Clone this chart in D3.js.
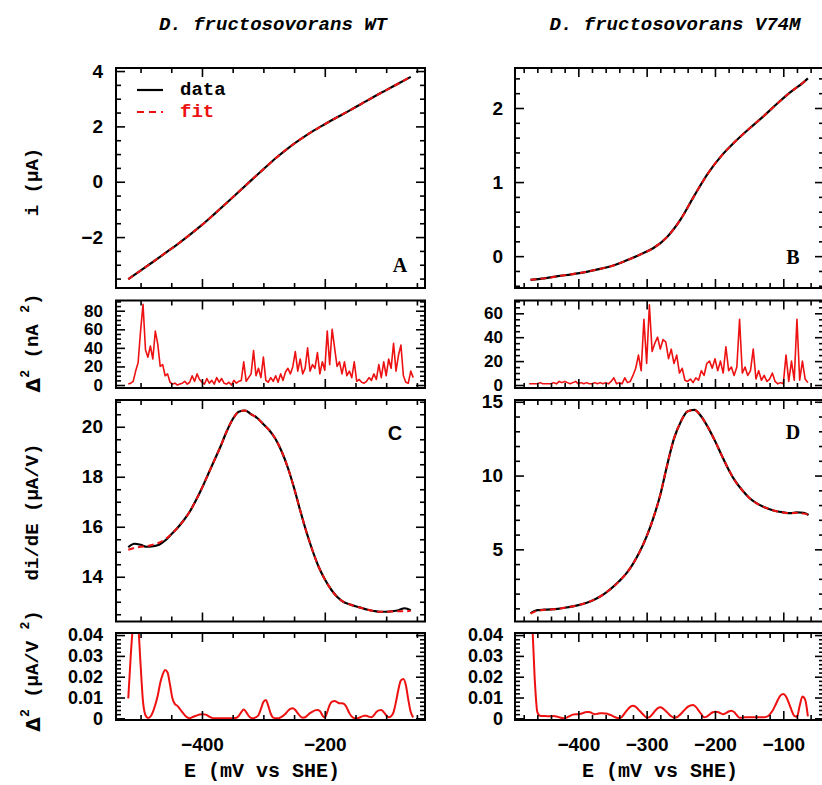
<!DOCTYPE html>
<html><head><meta charset="utf-8">
<script src="https://cdn.jsdelivr.net/npm/d3@7"></script>
<style>
html,body{margin:0;padding:0;background:#fff;}
svg{display:block;}
</style></head><body>
<svg id="chart" width="822" height="785"></svg>
<script>
// ---------------- text ----------------
const titles = ["D. fructosovorans WT", "D. fructosovorans V74M"];
const panelLetters = ["A", "B", "C", "D"];
const legendLabels = ["data", "fit"];
const xAxisLabel = "E (mV vs SHE)";

// ---------------- ticks ----------------
const wtXTicks = [-400, -200];
const mtXTicks = [-400, -300, -200, -100];
const aYTicks = [-2, 0, 2, 4];
const bYTicks = [0, 1, 2];
const res1WtTicks = [0, 20, 40, 60, 80];
const res1MtTicks = [0, 20, 40, 60];
const cYTicks = [14, 16, 18, 20];
const dYTicks = [5, 10, 15];
const res2Ticks = [0, 0.01, 0.02, 0.03, 0.04];

// ---------------- WT current (A) ----------------
const wtIE = [-520,-500,-480,-460,-440,-420,-400,-380,-360,-340,-320,-300,-280,-260,-240,-220,-200,-180,-160,-140,-120,-100,-80,-60];
const wtIData = [-3.52,-3.21,-2.90,-2.58,-2.26,-1.92,-1.56,-1.17,-0.77,-0.36,0.05,0.45,0.85,1.21,1.53,1.82,2.08,2.33,2.57,2.82,3.07,3.31,3.55,3.79];
const wtIFit  = [-3.52,-3.21,-2.90,-2.58,-2.26,-1.92,-1.56,-1.17,-0.77,-0.36,0.05,0.45,0.85,1.21,1.53,1.82,2.08,2.33,2.57,2.82,3.07,3.31,3.55,3.79];

// ---------------- WT derivative (C) ----------------
const wtDE = [-520,-510,-500,-490,-480,-470,-460,-450,-440,-430,-420,-410,-400,-390,-380,-370,-360,-350,-340,-330,-320,-310,-300,-290,-280,-270,-260,-250,-240,-230,-220,-210,-200,-190,-180,-170,-160,-150,-140,-130,-120,-110,-100,-90,-80,-70,-60];
const wtDData = [15.18,15.32,15.28,15.20,15.22,15.28,15.45,15.70,15.95,16.25,16.60,17.05,17.55,18.10,18.65,19.20,19.80,20.30,20.60,20.65,20.50,20.35,20.10,19.85,19.50,19.00,18.35,17.55,16.65,15.80,15.05,14.40,13.90,13.50,13.20,13.00,12.90,12.82,12.75,12.68,12.63,12.60,12.60,12.62,12.66,12.74,12.66];
const wtDFit  = [15.08,15.15,15.20,15.22,15.28,15.36,15.50,15.70,15.95,16.25,16.60,17.05,17.55,18.10,18.65,19.20,19.80,20.30,20.60,20.65,20.50,20.35,20.10,19.85,19.50,19.00,18.35,17.55,16.65,15.80,15.05,14.40,13.90,13.50,13.20,13.00,12.90,12.82,12.75,12.68,12.63,12.60,12.60,12.61,12.62,12.62,12.64];

// ---------------- WT residuals ----------------
const wtRE = [-520,-516,-512,-508,-504,-500,-496,-492,-488,-484,-480,-476,-472,-468,-464,-460,-456,-452,-448,-444,-440,-436,-432,-428,-424,-420,-416,-412,-408,-404,-400,-396,-392,-388,-384,-380,-376,-372,-368,-364,-360,-356,-352,-348,-344,-340,-336,-332,-328,-324,-320,-316,-312,-308,-304,-300,-296,-292,-288,-284,-280,-276,-272,-268,-264,-260,-256,-252,-248,-244,-240,-236,-232,-228,-224,-220,-216,-212,-208,-204,-200,-196,-192,-188,-184,-180,-176,-172,-168,-164,-160,-156,-152,-148,-144,-140,-136,-132,-128,-124,-120,-116,-112,-108,-104,-100,-96,-92,-88,-84,-80,-76,-72,-68,-64,-60,-56];
const wtRes1 = [1,2,4,15,24,58,87,38,30,42,28,58,44,20,22,10,12,3,1,2,0,1,2,4,1,3,10,4,12,6,3,1,7,2,5,1,8,3,7,2,1,3,0,5,2,4,5,25,4,8,12,37,10,18,8,30,5,3,8,4,10,3,12,5,14,18,12,20,36,15,28,12,18,40,15,22,18,35,12,25,16,58,22,60,40,20,25,12,25,10,15,8,25,4,6,3,2,4,8,5,12,6,22,8,25,10,28,18,45,15,32,43,10,3,2,15,8];
const wtRes2 = [0.0096,0.030,0.046,0.055,0.046,0.026,0.008,0.0015,0.0002,0.0008,0.003,0.0065,0.011,0.017,0.021,0.0232,0.022,0.016,0.0095,0.0068,0.006,0.0045,0.003,0.0015,0.0005,0.0001,0.0005,0.001,0.0014,0.0018,0.002,0.0019,0.0015,0.0008,0.0002,0.0,0.0,0.0,0.0,0.0,0.0,0.0,0.0,0.0001,0.0003,0.0012,0.003,0.0043,0.003,0.0012,0.0002,0.0001,0.0006,0.0015,0.0045,0.0078,0.0088,0.006,0.0022,0.0003,0.0,0.0,0.0005,0.0012,0.0022,0.0036,0.0045,0.0048,0.004,0.0025,0.001,0.0003,0.0005,0.0015,0.0025,0.0032,0.0038,0.004,0.0035,0.0015,0.0004,0.003,0.0065,0.008,0.0083,0.0078,0.0072,0.0073,0.0068,0.005,0.0025,0.0008,0.0001,0.0,0.0003,0.0008,0.0013,0.0012,0.0008,0.0005,0.0015,0.003,0.0038,0.004,0.003,0.0015,0.0005,0.001,0.003,0.008,0.014,0.0182,0.0189,0.016,0.009,0.003,0.0005];

// ---------------- V74M current (B) ----------------
const mtIE = [-470,-450,-430,-410,-390,-370,-350,-330,-310,-290,-270,-250,-230,-210,-190,-170,-150,-130,-110,-90,-70,-64];
const mtIData = [-0.32,-0.30,-0.27,-0.245,-0.215,-0.175,-0.13,-0.06,0.02,0.11,0.26,0.50,0.82,1.12,1.36,1.55,1.72,1.88,2.05,2.21,2.35,2.40];
const mtIFit  = [-0.32,-0.30,-0.27,-0.245,-0.215,-0.175,-0.13,-0.06,0.02,0.11,0.26,0.50,0.82,1.12,1.36,1.55,1.72,1.88,2.05,2.21,2.35,2.40];

// ---------------- V74M derivative (D) ----------------
const mtDE = [-470,-460,-450,-440,-430,-420,-410,-400,-390,-380,-370,-360,-350,-340,-330,-320,-310,-300,-290,-280,-270,-260,-250,-240,-230,-220,-210,-200,-190,-180,-170,-160,-150,-140,-130,-120,-110,-100,-90,-80,-70,-63];
const mtDData = [0.68,0.88,0.91,0.93,0.97,1.04,1.12,1.22,1.35,1.52,1.75,2.05,2.42,2.85,3.35,4.02,4.85,5.88,7.15,8.70,10.70,12.50,13.65,14.35,14.45,14.00,13.25,12.35,11.35,10.40,9.60,9.00,8.50,8.15,7.90,7.72,7.58,7.50,7.45,7.50,7.48,7.33];
const mtDFit  = [0.64,0.84,0.90,0.93,0.97,1.04,1.12,1.22,1.35,1.52,1.75,2.05,2.42,2.85,3.35,4.02,4.85,5.88,7.15,8.70,10.70,12.50,13.65,14.35,14.45,14.00,13.25,12.35,11.35,10.40,9.60,9.00,8.50,8.15,7.90,7.72,7.58,7.50,7.45,7.48,7.42,7.35];

// ---------------- V74M residuals ----------------
const mtRE = [-472,-468,-464,-460,-456,-452,-448,-444,-440,-436,-432,-428,-424,-420,-416,-412,-408,-404,-400,-396,-392,-388,-384,-380,-376,-372,-368,-364,-360,-356,-352,-348,-344,-340,-336,-332,-328,-324,-320,-316,-312,-308,-304,-300,-296,-292,-288,-284,-280,-276,-272,-268,-264,-260,-256,-252,-248,-244,-240,-236,-232,-228,-224,-220,-216,-212,-208,-204,-200,-196,-192,-188,-184,-180,-176,-172,-168,-164,-160,-156,-152,-148,-144,-140,-136,-132,-128,-124,-120,-116,-112,-108,-104,-100,-96,-92,-88,-84,-80,-76,-72,-68,-64];
const mtRes1 = [1,1,1,1,2,1,1,1,1,2,1,3,2,3,2,1,2,3,1,2,1,2,1,1,2,1,2,1,2,1,3,6,1,2,1,6,2,3,8,14,25,12,55,18,67,28,35,40,30,38,36,22,30,18,25,10,14,4,3,5,2,6,4,12,8,18,20,14,22,12,20,10,32,12,15,8,15,55,10,15,8,12,30,5,12,4,8,3,5,10,3,1,2,1,25,3,20,4,55,4,20,5,2];
const mtRes2 = [0.09,0.05,0.02,0.003,0.0012,0.0011,0.0011,0.001,0.001,0.0011,0.0009,0.0005,0.0002,0.0001,0.0005,0.0012,0.0018,0.002,0.002,0.0022,0.0027,0.003,0.003,0.0025,0.002,0.0022,0.0025,0.0025,0.0023,0.002,0.0015,0.0008,0.0003,0.0001,0.0008,0.0025,0.0042,0.0055,0.006,0.0055,0.0042,0.0028,0.0015,0.0004,0.0005,0.0018,0.0035,0.0048,0.0053,0.0047,0.0035,0.0022,0.001,0.0003,0.0005,0.0015,0.0028,0.0042,0.0055,0.0062,0.0064,0.0055,0.0038,0.002,0.0005,0.0008,0.0018,0.0028,0.0032,0.003,0.0025,0.002,0.0025,0.0033,0.0037,0.003,0.0015,0.0003,0.0003,0.0005,0.0005,0.0005,0.0005,0.0005,0.0005,0.0005,0.0005,0.0008,0.0018,0.0035,0.006,0.0088,0.011,0.0117,0.0105,0.0075,0.004,0.0012,0.0008,0.006,0.0105,0.009,0.001];

// ---------------- layout ----------------
const svg = d3.select("#chart");
const cols = [{x0: 116, x1: 425}, {x0: 515, x1: 824}];
const rows = [{y0: 68, y1: 288}, {y0: 300.5, y1: 388}, {y0: 400, y1: 621.5}, {y0: 633, y1: 720}];
const xScales = [
  d3.scaleLinear().domain([-540, -36.8]).range([cols[0].x0, cols[0].x1]),
  d3.scaleLinear().domain([-492.7, -40.4]).range([cols[1].x0, cols[1].x1])
];
const xMajor = [wtXTicks, mtXTicks];
const xMinorStep = [50, 20];

const TEXT_FONT = "'Liberation Mono', 'DejaVu Sans Mono', monospace";
const NUM_FONT = "'Liberation Sans', Arial, sans-serif";
const RED = "#ee1111";

const fmtInt = d3.format("d");
const fmtRes2 = d => d === 0 ? "0" : d3.format(".2f")(d);

const panels = [
  {id: "A", col: 0, row: 0, yDomain: [-3.84, 4.11], yTicks: aYTicks, yMinor: 0.5, fmt: fmtInt, fs: 19,
   series: [{E: wtIE, v: wtIData, kind: "data"}, {E: wtIE, v: wtIFit, kind: "fit"}]},
  {id: "B", col: 1, row: 0, yDomain: [-0.43, 2.54], yTicks: bYTicks, yMinor: 0.2, fmt: fmtInt, fs: 19,
   series: [{E: mtIE, v: mtIData, kind: "data"}, {E: mtIE, v: mtIFit, kind: "fit"}]},
  {id: "R1a", col: 0, row: 1, yDomain: [-3.2, 91], yTicks: res1WtTicks, yMinor: 5, fmt: fmtInt, fs: 17,
   series: [{E: wtRE, v: wtRes1, kind: "res"}]},
  {id: "R1b", col: 1, row: 1, yDomain: [-2.5, 70.7], yTicks: res1MtTicks, yMinor: 5, fmt: fmtInt, fs: 17,
   series: [{E: mtRE, v: mtRes1, kind: "res"}]},
  {id: "C", col: 0, row: 2, yDomain: [12.21, 21.07], yTicks: cYTicks, yMinor: 0.5, fmt: fmtInt, fs: 19,
   series: [{E: wtDE, v: wtDData, kind: "data"}, {E: wtDE, v: wtDFit, kind: "fit"}]},
  {id: "D", col: 1, row: 2, yDomain: [0.11, 15.12], yTicks: dYTicks, yMinor: 1, fmt: fmtInt, fs: 19,
   series: [{E: mtDE, v: mtDData, kind: "data"}, {E: mtDE, v: mtDFit, kind: "fit"}]},
  {id: "R2a", col: 0, row: 3, yDomain: [-0.0008, 0.041], yTicks: res2Ticks, yMinor: 0.002, fmt: fmtRes2, fs: 18,
   series: [{E: wtRE, v: wtRes2, kind: "res2"}]},
  {id: "R2b", col: 1, row: 3, yDomain: [-0.0008, 0.041], yTicks: res2Ticks, yMinor: 0.002, fmt: fmtRes2, fs: 18,
   series: [{E: mtRE, v: mtRes2, kind: "res2"}]}
];

function minorValues(domain, step) {
  const lo = Math.min(domain[0], domain[1]), hi = Math.max(domain[0], domain[1]);
  const out = [];
  const start = Math.ceil(lo / step - 1e-9);
  for (let k = start; k * step <= hi + 1e-12; k++) out.push(+(k * step).toFixed(6));
  return out;
}

function styleAxis(g, withText, fs) {
  g.select(".domain").remove();
  g.selectAll(".tick line").attr("stroke", "#000").attr("stroke-width", 1.6);
  g.attr("font-family", NUM_FONT).attr("font-size", fs || 19).attr("font-weight", "bold");
  g.selectAll(".tick text").attr("fill", "#000");
  if (!withText) g.selectAll(".tick text").remove();
}

const defs = svg.append("defs");

panels.forEach(p => {
  const c = cols[p.col], r = rows[p.row];
  const x = xScales[p.col];
  const y = d3.scaleLinear().domain(p.yDomain).range([r.y1, r.y0]);
  const clipId = "clip" + p.id;
  defs.append("clipPath").attr("id", clipId).append("rect")
    .attr("x", c.x0).attr("y", r.y0).attr("width", c.x1 - c.x0).attr("height", r.y1 - r.y0);

  const gData = svg.append("g").attr("clip-path", `url(#${clipId})`);
  p.series.forEach(s => {
    const pts = s.E.map((e, i) => [e, s.v[i]]);
    const line = d3.line().x(d => x(d[0])).y(d => y(d[1]))
      .curve(s.kind === "res" ? d3.curveLinear : d3.curveMonotoneX);
    const path = gData.append("path").datum(pts).attr("d", line).attr("fill", "none")
      .attr("stroke-linejoin", "round");
    if (s.kind === "data") path.attr("stroke", "#000").attr("stroke-width", 2.2);
    else if (s.kind === "fit") path.attr("stroke", RED).attr("stroke-width", 2).attr("stroke-dasharray", "6,4");
    else if (s.kind === "res") path.attr("stroke", RED).attr("stroke-width", 1.6);
    else path.attr("stroke", RED).attr("stroke-width", 2);
  });

  const majorLen = 9, minorLen = 5;
  const xMin = minorValues(x.domain(), xMinorStep[p.col]).filter(v => !xMajor[p.col].includes(v));
  const yMin = minorValues(p.yDomain, p.yMinor).filter(v => !p.yTicks.some(t => Math.abs(t - v) < 1e-9));

  const isBottom = p.row === 3;
  // bottom
  svg.append("g").attr("transform", `translate(0,${r.y1})`)
    .call(d3.axisBottom(x).tickValues(xMajor[p.col]).tickSize(-majorLen).tickPadding(18).tickFormat(fmtInt))
    .call(g => styleAxis(g, isBottom, 19));
  svg.append("g").attr("transform", `translate(0,${r.y1})`)
    .call(d3.axisBottom(x).tickValues(xMin).tickSize(-minorLen).tickFormat(""))
    .call(g => styleAxis(g, false));
  // top
  svg.append("g").attr("transform", `translate(0,${r.y0})`)
    .call(d3.axisTop(x).tickValues(xMajor[p.col]).tickSize(-majorLen).tickFormat(""))
    .call(g => styleAxis(g, false));
  svg.append("g").attr("transform", `translate(0,${r.y0})`)
    .call(d3.axisTop(x).tickValues(xMin).tickSize(-minorLen).tickFormat(""))
    .call(g => styleAxis(g, false));
  // left
  svg.append("g").attr("transform", `translate(${c.x0},0)`)
    .call(d3.axisLeft(y).tickValues(p.yTicks).tickSize(-majorLen).tickPadding(p.col === 0 ? 13 : 12).tickFormat(p.fmt))
    .call(g => styleAxis(g, true, p.fs));
  svg.append("g").attr("transform", `translate(${c.x0},0)`)
    .call(d3.axisLeft(y).tickValues(yMin).tickSize(-minorLen).tickFormat(""))
    .call(g => styleAxis(g, false));
  // right
  svg.append("g").attr("transform", `translate(${c.x1},0)`)
    .call(d3.axisRight(y).tickValues(p.yTicks).tickSize(-majorLen).tickFormat(""))
    .call(g => styleAxis(g, false));
  svg.append("g").attr("transform", `translate(${c.x1},0)`)
    .call(d3.axisRight(y).tickValues(yMin).tickSize(-minorLen).tickFormat(""))
    .call(g => styleAxis(g, false));

  // frame
  svg.append("rect").attr("x", c.x0).attr("y", r.y0).attr("width", c.x1 - c.x0).attr("height", r.y1 - r.y0)
    .attr("fill", "none").attr("stroke", "#000").attr("stroke-width", 2);
});

// titles
[[273, 30], [675, 30]].forEach((pos, i) => {
  svg.append("text").attr("x", pos[0]).attr("y", pos[1]).attr("text-anchor", "middle")
    .attr("font-family", TEXT_FONT).attr("font-size", 19).attr("font-weight", "bold").attr("font-style", "italic")
    .text(titles[i]);
});

// x-axis labels
[262, 660].forEach(cx => {
  svg.append("text").attr("x", cx).attr("y", 777).attr("text-anchor", "middle")
    .attr("font-family", TEXT_FONT).attr("font-size", 20).attr("font-weight", "bold")
    .text(xAxisLabel);
});

// panel letters
const letterPos = [[400, 265, "'Liberation Serif', serif"], [793, 257, "'Liberation Serif', serif"],
                   [395, 433, "'Liberation Sans', sans-serif"], [793, 432, "'Liberation Serif', serif"]];
letterPos.forEach((lp, i) => {
  svg.append("text").attr("x", lp[0]).attr("y", lp[1]).attr("text-anchor", "middle")
    .attr("dominant-baseline", "central").attr("font-family", lp[2]).attr("font-size", 20)
    .attr("font-weight", "bold").text(panelLetters[i]);
});

// y-axis labels (rotated)
function yLabel(cy, parts) {
  const t = svg.append("text").attr("transform", `translate(33,${cy}) rotate(-90)`)
    .attr("text-anchor", "middle").attr("dominant-baseline", "central")
    .attr("font-family", TEXT_FONT).attr("font-size", 19).attr("font-weight", "bold");
  parts.forEach(pt => {
    const ts = t.append("tspan").text(pt.t);
    if (pt.sup) ts.attr("baseline-shift", "super").attr("font-size", 13);
    if (pt.f) ts.attr("font-family", pt.f);
  });
}
yLabel(182, [{t: "i (μA)"}]);
yLabel(343, [{t: "Δ", f: "'DejaVu Sans', sans-serif"}, {t: "2", sup: true}, {t: " (nA "}, {t: "2", sup: true}, {t: ")"}]);
yLabel(512, [{t: "di/dE (μA/V)"}]);
yLabel(671, [{t: "Δ", f: "'DejaVu Sans', sans-serif"}, {t: "2", sup: true}, {t: " (μA/V "}, {t: "2", sup: true}, {t: ")"}]);

// legend
svg.append("line").attr("x1", 137).attr("x2", 163).attr("y1", 90).attr("y2", 90)
  .attr("stroke", "#000").attr("stroke-width", 2.2);
svg.append("text").attr("x", 180).attr("y", 90).attr("dominant-baseline", "central")
  .attr("font-family", TEXT_FONT).attr("font-size", 19).attr("font-weight", "bold").text(legendLabels[0]);
svg.append("line").attr("x1", 137).attr("x2", 163).attr("y1", 112).attr("y2", 112)
  .attr("stroke", RED).attr("stroke-width", 2).attr("stroke-dasharray", "7,5");
svg.append("text").attr("x", 180).attr("y", 112).attr("dominant-baseline", "central")
  .attr("font-family", TEXT_FONT).attr("font-size", 19).attr("font-weight", "bold").attr("fill", RED).text(legendLabels[1]);
</script>
</body></html>
